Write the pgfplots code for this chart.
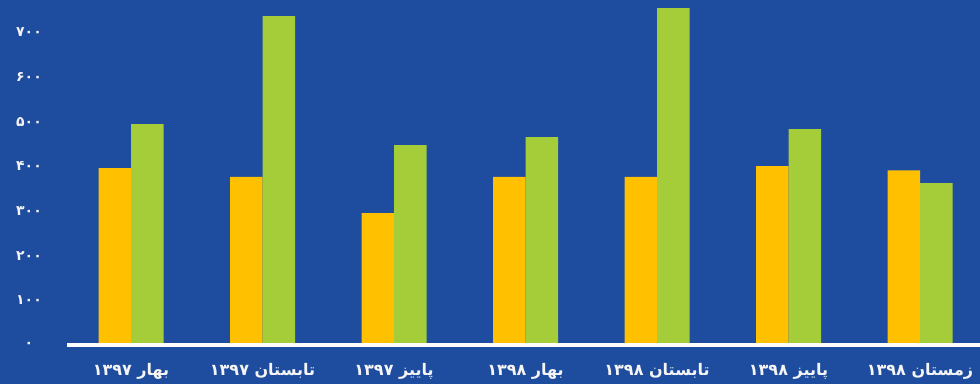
\documentclass[border=0pt]{standalone}
\usepackage{pgfplots}
\pgfplotsset{compat=1.18}
\usepackage{fontspec}
\setmainfont{DejaVu Sans}
\newfontfamily\fa[Script=Arabic]{DejaVu Sans}
\TeXXeTstate=1
\definecolor{bg}{RGB}{30,76,158}
\definecolor{yel}{RGB}{255,192,0}
\definecolor{grn}{RGB}{165,204,57}
\begin{document}
\begin{tikzpicture}[x=1pt,y=1pt]
\fill[bg] (0,0) rectangle (980,384);
\begin{axis}[
  at={(67pt,39pt)}, anchor=south west,
  scale only axis, width=913pt, height=345pt,
  xmin=-0.487, xmax=6.456, ymin=0, ymax=772,
  ybar=0pt, bar width=32.5pt,
  axis lines*=left,
  axis on top=true,
  x axis line style={white, line width=4pt},
  y axis line style={draw=none},
  major tick length=0pt,
  xtick={0,1,2,3,4,5,6},
  xticklabels={{\beginR بهار ۱۳۹۷\endR},{\beginR تابستان ۱۳۹۷\endR},{\beginR پاییز ۱۳۹۷\endR},{\beginR بهار ۱۳۹۸\endR},{\beginR تابستان ۱۳۹۸\endR},{\beginR پاییز ۱۳۹۸\endR},{\beginR زمستان ۱۳۹۸\endR}},
  xticklabel style={font=\fa\bfseries\fontsize{16}{18}\selectfont, text=white!92!gray, anchor=center, yshift=-26pt},
  ytick={0,100,200,300,400,500,600,700},
  yticklabels={۰,۱۰۰,۲۰۰,۳۰۰,۴۰۰,۵۰۰,۶۰۰,۷۰۰},
  yticklabel style={font=\fa\bfseries\fontsize{14}{16}\selectfont, text=white!90!gray, anchor=center, xshift=-38pt},
  clip=false,
]
\addplot[fill=yel, draw=none] coordinates {(0,396) (1,376) (2,295) (3,376) (4,376) (5,400) (6,391)};
\addplot[fill=grn, draw=none] coordinates {(0,494) (1,736) (2,447) (3,465) (4,754) (5,483) (6,362)};
\end{axis}
\pgfresetboundingbox
\path[use as bounding box] (0,0) rectangle (980,384);
\end{tikzpicture}
\end{document}
